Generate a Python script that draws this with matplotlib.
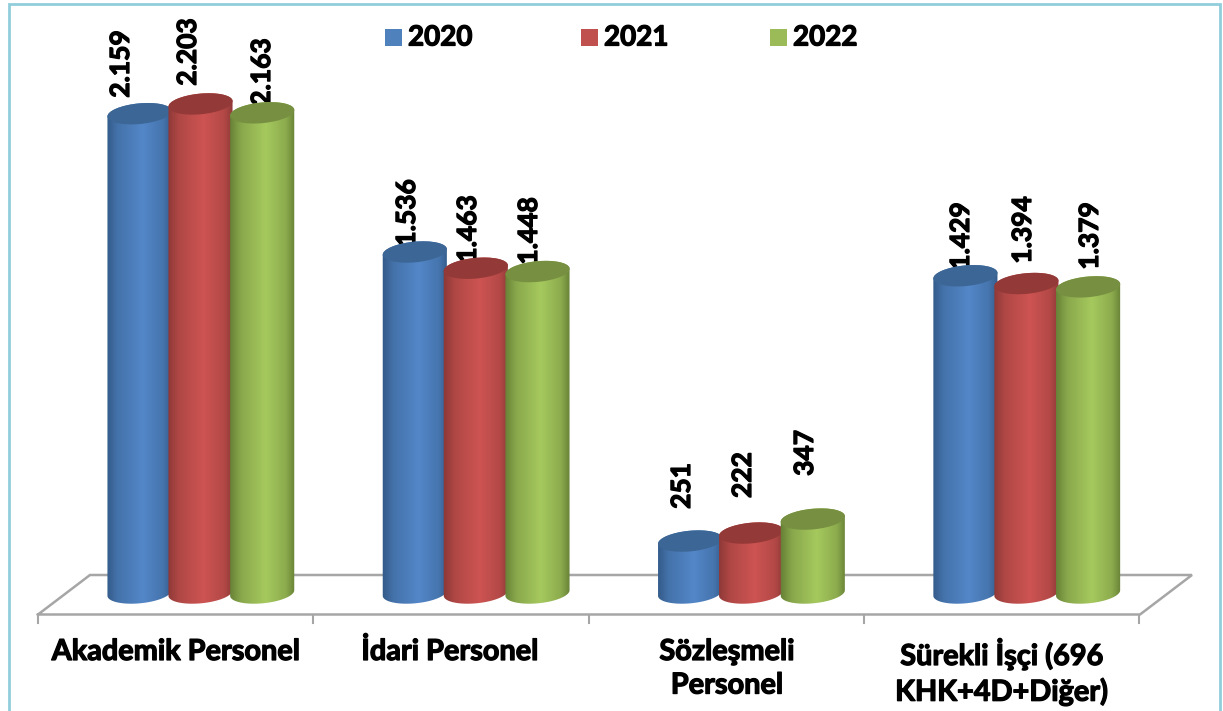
import numpy as np
import matplotlib
matplotlib.use("Agg")
import matplotlib.pyplot as plt
import matplotlib.patheffects as pe
from matplotlib.patches import Ellipse, Polygon, Rectangle
from matplotlib.colors import to_rgb

categories = ["Akademik Personel", "İdari Personel", "Sözleşmeli\nPersonel", "Sürekli İşçi (696\nKHK+4D+Diğer)"]
series_names = ["2020", "2021", "2022"]

# Printed data labels
labels_2020 = ["2.159", "1.536", "251", "1.429"]
labels_2021 = ["2.203", "1.463", "222", "1.394"]
labels_2022 = ["2.163", "1.448", "347", "1.379"]

# Bar heights as drawn in the picture (the third group's bars do not follow
# its printed labels in the reference, so they are read from the bar tops)
heights_2020 = [2159, 1536, 234, 1429]
heights_2021 = [2203, 1463, 270, 1394]
heights_2022 = [2163, 1448, 333, 1379]

W, H = 1223, 711
FONT = "Lato"
TXT = "#000000"
GRID = "#a6a6a6"
FRAME = "#92cddc"
BOLDER = [pe.withStroke(linewidth=0.9, foreground=TXT)]

fig = plt.figure(figsize=(W / 100, H / 100), dpi=100, facecolor="white")

# value axes: spans the figure, mapped so that category i / value v land right
ax = fig.add_axes([0, 0, 1, 1])
GROUP_W, GROUP_0 = 275.3, 200.5
BASE_Y, PX_PER_UNIT = 593.0, 0.222
ax.set_xlim(-GROUP_0 / GROUP_W, (W - GROUP_0) / GROUP_W)
ax.set_ylim(-(H - BASE_Y) / PX_PER_UNIT, BASE_Y / PX_PER_UNIT)
ax.axis("off")

# overlay in pixel units for the pseudo-3D decoration
px = fig.add_axes([0, 0, 1, 1], facecolor="none")
px.set_xlim(0, W)
px.set_ylim(H, 0)
px.axis("off")


def to_px(x, v):
    dx, dy = ax.transData.transform((x, v))
    return dx, H - dy


# frame
px.plot([9, 9, 1220, 1220], [H, 4, 4, H], color=FRAME, lw=2.0, solid_joinstyle="miter", zorder=1)

# floor
floor_x = [38, 90, 1192, 1140, 38]
floor_y = [614.5, 575, 575, 614.5, 614.5]
px.plot(floor_x, floor_y, color=GRID, lw=1.8, zorder=2, solid_joinstyle="miter")
for i in range(5):
    tx = 38 + i * GROUP_W
    px.plot([tx, tx], [614.5, 623], color=GRID, lw=1.5, zorder=2)

# data labels (below the cylinders, which cover them partly)
label_pos = {
    0: [(121, 64), (407, 213), (682, 486), (961, 236)],
    1: [(188, 52), (468, 229), (743, 475), (1023, 230)],
    2: [(262, 72), (529, 231), (805, 453), (1090, 236)],
}
all_labels = [labels_2020, labels_2021, labels_2022]
for s, labs in enumerate(all_labels):
    for (lx, ly), t in zip(label_pos[s], labs):
        px.text(lx, ly, t, rotation=90, ha="center", va="center", color=TXT,
                fontsize=19, fontfamily=FONT, fontweight="bold", zorder=3, path_effects=BOLDER)

# cylinders
palette = [
    dict(edge="#335a88", mid="#5387c8", top="#3c6695"),
    dict(edge="#8c3836", mid="#cd5452", top="#933937"),
    dict(edge="#657f35", mid="#a6c95e", top="#778f41"),
]
A, B, TILT = 32.2, 10.3, -5.5
OFFSETS = [-61.0, 0.0, 61.7]
all_heights = [heights_2020, heights_2021, heights_2022]


def arc(cx, cy, t):
    th = np.deg2rad(TILT)
    x = A * np.cos(t)
    y = B * np.sin(t)
    return cx + x * np.cos(th) - y * np.sin(th), cy + x * np.sin(th) + y * np.cos(th)


z = 5
for g in range(len(categories)):
    for s in range(3):
        cx, cy_top = to_px(g, all_heights[s][g])
        cx += OFFSETS[s]
        _, cy_bot = to_px(g, 0)
        c = palette[s]
        t_low = np.linspace(np.pi, 0, 60)
        xb, yb = arc(cx, cy_bot, t_low)
        t_up = np.linspace(0, -np.pi, 60)
        xt, yt = arc(cx, cy_top, t_up)
        poly = Polygon(np.c_[np.r_[xb, xt], np.r_[yb, yt]], closed=True, fc="none", ec="none",
                       transform=px.transData)
        px.add_patch(poly)
        stops = [0.0, 0.18, 0.55, 0.85, 1.0]
        cols = np.array([to_rgb(c["edge"]),
                         0.55 * np.array(to_rgb(c["mid"])) + 0.45 * np.array(to_rgb(c["edge"])),
                         to_rgb(c["mid"]),
                         0.6 * np.array(to_rgb(c["mid"])) + 0.4 * np.array(to_rgb(c["edge"])),
                         to_rgb(c["edge"])])
        u = np.linspace(0, 1, 128)
        grad = np.stack([np.interp(u, stops, cols[:, k]) for k in range(3)], axis=-1)[None, :, :]
        im = px.imshow(grad, extent=[cx - A - 1, cx + A + 1, cy_bot + B + 6, cy_top - B - 6],
                       aspect="auto", interpolation="bilinear", zorder=z)
        im.set_clip_path(poly)
        px.add_patch(Ellipse((cx, cy_top), 2 * A, 2 * B, angle=TILT, fc=c["top"], ec="none", zorder=z + 0.5))
        z += 1

px.set_xlim(0, W)
px.set_ylim(H, 0)

# legend
legend_sq = [385, 581, 770]
legend_tx = [408, 604, 793]
legend_col = ["#4f81bd", "#c0504d", "#9bbb59"]
for x0, xt, col, name in zip(legend_sq, legend_tx, legend_col, series_names):
    px.add_patch(Rectangle((x0, 29), 17, 17, fc=col, ec="none", zorder=50))
    px.text(xt, 37.5, name, ha="left", va="center", color=TXT, fontsize=20,
            fontfamily=FONT, fontweight="bold", zorder=50, path_effects=BOLDER)

# category labels
cat_x = [176, 450, 727, 1002]
for x0, name in zip(cat_x, categories):
    px.text(x0, 639, name, ha="center", va="top", color=TXT, fontsize=20.8,
            fontfamily=FONT, fontweight="bold", linespacing=1.36, zorder=50, path_effects=BOLDER)

fig.savefig("out.png", dpi=100, facecolor="white")
